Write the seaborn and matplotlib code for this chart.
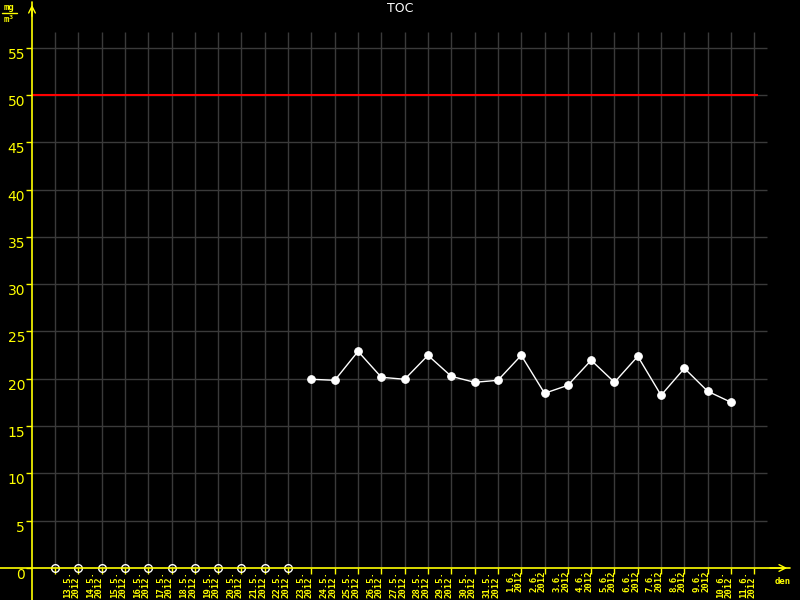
import matplotlib
matplotlib.use('Agg')
import matplotlib.pyplot as plt
import matplotlib.transforms as mtransforms
import seaborn as sns
import pandas as pd
import numpy as np

sns.set_theme(style='dark', rc={'axes.facecolor': 'black', 'figure.facecolor': 'black',
                                'axes.grid': False})
plt.rcParams['font.family'] = ['DejaVu Sans']

# days shown on the x axis
dates = ['13.5.', '14.5.', '15.5.', '16.5.', '17.5.', '18.5.', '19.5.', '20.5.',
         '21.5.', '22.5.', '23.5.', '24.5.', '25.5.', '26.5.', '27.5.', '28.5.',
         '29.5.', '30.5.', '31.5.', '1.6.', '2.6.', '3.6.', '4.6.', '5.6.',
         '6.6.', '7.6.', '8.6.', '9.6.', '10.6.', '11.6.']
year = '2012'
# TOC in mg/m3, NaN = no measurement that day
toc = [np.nan] * 11 + [19.95, 19.84, 22.9, 20.16, 19.95, 22.48, 20.26, 19.63,
                       19.84, 22.48, 18.47, 19.31, 21.96, 19.63, 22.38, 18.26,
                       21.11, 18.68, 17.52]
limit = 50
y_ticks = list(range(0, 60, 5))

YEL = '#ffff00'
GRID = '#3a3a3a'
MONO = 'DejaVu Sans Mono'

df = pd.DataFrame({'pos': np.arange(len(dates)), 'date': dates, 'toc': toc})
measured = df.dropna()
missing = df[df['toc'].isna()]

fig = plt.figure(figsize=(8, 6), dpi=100)
ax = fig.add_axes([32 / 800, 32 / 600, 758 / 800, 566 / 600])
x0 = -0.987
ax.set_xlim(x0, 31.53)
ax.set_ylim(0, 59.83)
for s in ax.spines.values():
    s.set_visible(False)

# grid
ax.vlines(range(len(dates) + 1), 0, 56.66, color=GRID, lw=1, zorder=1)
ax.hlines(y_ticks[1:], x0, 30.55, color=GRID, lw=1, zorder=1)

# limit line
ax.hlines(limit, x0, 30.15, color='#ff0000', lw=1.5, zorder=3)

# data
sns.lineplot(data=measured, x='pos', y='toc', color='white', lw=1, marker='o',
             markersize=5.5, markeredgecolor='white', ax=ax, zorder=4)
ax.plot(missing['pos'], np.zeros(len(missing)), 'o', mfc='none', mec='white',
        ms=5.5, mew=1, zorder=2, clip_on=False)

# axes lines with arrows
ax.plot([-32 / 758, 1], [0, 0], color=YEL, lw=1.2, transform=ax.transAxes,
        clip_on=False, zorder=3)
ax.plot([0, 0], [-32 / 566, 1], color=YEL, lw=1.2, transform=ax.transAxes,
        clip_on=False, zorder=3)
ax.annotate('', xy=(1.0, 0), xytext=(0.97, 0), xycoords='axes fraction',
            arrowprops=dict(arrowstyle='->', color=YEL, lw=1, mutation_scale=12))
ax.annotate('', xy=(0, 1.0), xytext=(0, 0.97), xycoords='axes fraction',
            arrowprops=dict(arrowstyle='->', color=YEL, lw=1, mutation_scale=12))

# ticks
ax.set_yticks(y_ticks)
ax.set_yticklabels([str(v) for v in y_ticks])
ax.tick_params(axis='y', colors=YEL, length=4, width=1, direction='out',
               labelsize=10, pad=1, left=True)
for lab in ax.get_yticklabels():
    lab.set_verticalalignment('top')
ax.set_xticks(range(len(dates) + 1))
ax.set_xticklabels([''] * (len(dates) + 1))
ax.tick_params(axis='x', colors=YEL, length=4, width=1, direction='out',
               bottom=True)
ax.set_xlabel('')
ax.set_ylabel('')

off = mtransforms.ScaledTranslation(8 / 100, -3 / 100, fig.dpi_scale_trans)
for i, d in enumerate(dates):
    ax.text(i, 0, d + '\n' + year, rotation=90, ha='left', va='top',
            transform=ax.get_xaxis_transform() + off, color=YEL,
            fontsize=6.5, family=MONO, weight='bold', linespacing=0.95)

# labels
fig.text(783 / 800, 1 - 582 / 600, 'den', ha='center', va='center', color=YEL,
         fontsize=6.5, family=MONO, weight='bold')
fig.text(9 / 800, 1 - 8 / 600, 'mg', ha='center', va='center', color=YEL,
         fontsize=6.5, family=MONO, weight='bold')
fig.add_artist(plt.Line2D([2 / 800, 17 / 800], [1 - 13 / 600, 1 - 13 / 600],
                          color=YEL, lw=1))
fig.text(9 / 800, 1 - 20 / 600, 'm³', ha='center', va='center', color=YEL,
         fontsize=6.5, family=MONO, weight='bold')
fig.text(0.5, 1 - 9 / 600, 'TOC', ha='center', va='center', color='white',
         fontsize=9)

fig.savefig('out.png', dpi=100, facecolor='black')
